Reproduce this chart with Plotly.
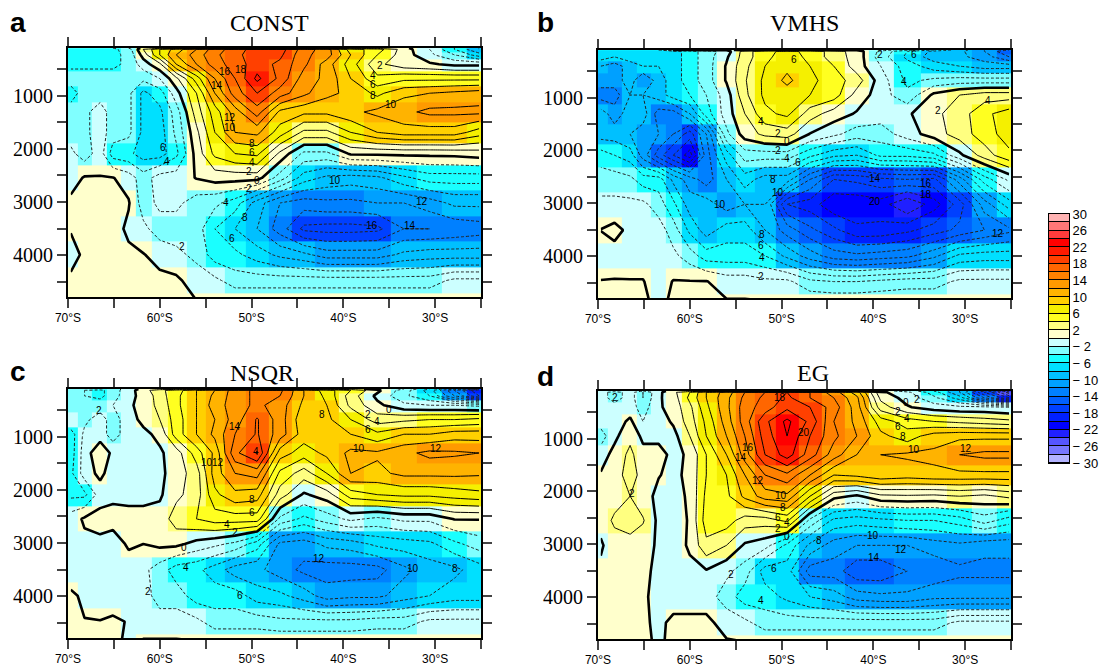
import plotly.graph_objects as go

LATITUDES = [-69.7,-68.2,-66.5,-65.1,-63.4,-61.8,-60,-58.2,-56,-54,-51.8,-49.4,-46.9,-44.3,-41.8,-39.2,-36.3,-33.4,-30.6,-27.9,-25.2]
DEPTHS = [100,125,230,406,676,952,1305,1689,2090,2547,3019,3506,3994,4480,4966]

CONST = [
[-4,-4,-4,-4,-2,.5,.5,.5,.5,.5,.5,.5,.5,.5,.5,.5,.5,.5,-2,-6,-10],
[-4.5,-4.5,-4.5,-4.5,-3,2,6,9,12,15,17,19,19,15,13,7,5,1,-2,-6,-10],
[-4.5,-4.5,-4.5,-4.5,-3.5,.8,6,10,13,15.5,17.5,19,18.5,14.5,13,8,4,1,-1.5,-4,-7],
[-4.5,-4.5,-4.5,-4.5,-3.5,-1,1.5,8,12,15,17,19,17.5,14.5,11,7,2.5,.8,.3,-.5,-.5],
[-3,-3,-3,-3,-3.5,-3.5,-2,1.5,7,12,16,20.5,17.5,13,11.5,8,4.5,5.5,5.5,5.5,5.5],
[-5,-3,-3,-3,-3.5,-6.5,-5,-.8,4,10,15,18,15,12.5,10.5,9.5,7.5,9.5,10,10.5,11],
[-3,-2.5,-1,-3,-3.5,-6.5,-6.5,-3,3,7,11,15,9.5,8.5,8.5,9.5,10.5,11.5,12.5,12.5,12.5],
[-3,-2.5,-1,-3,-3.5,-6.5,-7,-3.5,1.5,6,10,10.5,7,3.5,3.5,6,8,9,9,9,7],
[-1.5,-3,-1,-5,-5.5,-7,-7,-4.5,.8,4.5,6,6.5,1.5,-2.5,-2.5,.3,.4,.5,.5,.6,1],
[-1,.2,.1,.1,-1,-3,-1,-1,.1,.8,.8,.8,-3,-7,-8.5,-9,-8.5,-6.5,-5,-5,-5],
[.5,1,1,1,.2,-3,-1.5,-1.5,-3,-3.5,-5,-9,-12,-13,-12.5,-12.5,-12,-12,-11,-9.5,-9.5],
[.2,1.5,1,1,-.5,-1.5,-3,-3,-3,-6,-8,-10,-13,-16.5,-16.8,-16.8,-16.5,-14,-14,-13.5,-13],
[-1,.5,.5,.5,.5,.1,-.7,-1.5,-2.5,-5,-5.5,-7,-8.5,-9.5,-11,-11,-11,-9.5,-9,-9,-9],
[.5,.5,.5,.5,.5,.5,.5,.4,-1,-1.5,-3,-3,-3,-3,-3,-3,-3,-3,-3,-1.5,-1.5],
[.5,.5,.5,.5,.5,.5,.5,.5,.3,.5,.5,.5,.5,.5,.5,.5,.5,.5,.5,.5,.5],
]

VMHS = [
[-6,-6,-6,-6,-6,.2,.2,.2,.2,-.3,-.3,-.3,-.3,-.3,-.3,-1,-3,-6,-9,-12,-14],
[-7,-7,-7,-7,-7,-7,-5,-3,-1,3,5.5,6.5,5.5,3,1,-2.5,-6,-8.5,-9.5,-12,-16],
[-7,-8,-7,-7,-7,-7,-5,-3,-.3,3,5.5,7,5.5,3,1.2,-3,-6.5,-9,-9.5,-11,-14],
[-10,-11,-9,-8,-8,-7,-5,-3,.2,3.5,6,7.5,6,4,1,-2,-5,-7,-8,-9,-9],
[-11,-11,-9,-12,-9,-7,-5,-3,.2,3.8,6.5,8.5,6.5,5,3,-1,-4.5,-3.5,-3,-3,-3],
[-13,-13,-10,-10,-9,-7,-6,-4,-1,3.5,6.5,7,6,5,1.2,-1,-3.5,.5,2,3,3],
[-9,-11,-9,-9,-13,-13,-10,-5,-1,2,5.5,6.5,3,1,-.2,-1,-.3,1.5,3,5.5,7],
[-9,-9,-10,-11,-12,-14,-17,-12,-2.5,1,2.5,3,-.1,-1.5,-3,-3,-1,1,3,5,7],
[-5,-6,-7,-11,-15,-18,-21,-13,-7,-3,-3,-3,-5.5,-7.5,-8,-5.5,-5.5,-4.5,-.5,3,5.5],
[-3,-3,-3.5,-5,-5,-8.5,-11,-13,-10,-7,-9,-9,-14,-18,-17.5,-16.5,-16,-16.5,-11,-5,-1.5],
[-1.5,-1.5,-1.5,-1.5,-3,-5.5,-9,-9,-11,-10,-10,-18,-19,-21.5,-21.5,-21,-24,-21,-17,-11,-7],
[.05,.6,-.5,-1,-1,-3,-6.5,-9,-7,-7,-10,-13,-15.5,-17.5,-19.5,-19.5,-18.5,-17,-15.5,-14,-12.5],
[-1.5,-.8,-1,-1,-1,-1.5,-3,-5,-5,-5,-6,-8.5,-11,-13,-13.5,-13,-12.5,-10.5,-7.5,-7,-7],
[.1,.1,.1,.1,-1,.1,.1,.1,-1,-1,-1.5,-1.5,-3.5,-4,-4,-3.5,-3,-3,-1.5,-1.5,-1.5],
[.5,.5,.5,.5,-.5,.5,.5,.5,.5,.5,.5,.5,.5,.5,.5,.5,.5,.5,.5,.5,.5],
]

NSQR = [
[-3,-3,-3,-3,-1,.5,.5,.5,.5,.5,.5,.5,.5,.5,.5,.5,-.5,-2,-6,-10,-14],
[-3.5,-4,-4.5,-3,-.8,1,3.5,5,8,10,13,14.5,14.5,10,7,4,.5,-3,-7,-14,-20],
[-3.5,-4,-4.5,-3,-.5,.5,3,5.5,8,10.5,13,14.5,14,10,7.5,3,-.5,-3.5,-6,-12,-18],
[-2.5,-3,-3,-2,-.5,1,2.5,5.5,8,11,13,14.5,13,9.5,8,3.5,.5,-1.5,-2,-2,-2.5],
[-2,-2.5,-1,-3,-.8,.5,2,5,8,10,13,16.2,13,8.5,8.5,6,3,3.5,4,4,4.5],
[-5,-1.5,-1,-3,-.8,-.5,.5,5,8,10.5,14,16.2,13,9,9,8,6.5,8,8,9,9],
[-5,-1,1.5,-.5,-1,-1,-.3,1,5,8.5,15.5,18.2,9,7,8.5,10.5,10.3,11.5,12.5,12.3,12],
[-4.5,-1,.5,-1,-1,-1,-.5,1,3,9,12,12.8,5.5,3,6,10,9.5,10.5,10.5,10.5,10.3],
[-4.5,-4.5,-1,-.5,-.7,-.7,-.3,1.5,3,7.5,9.5,9,3,-.3,1,5,6,6.5,6.5,7,7.5],
[-1,.3,.8,.8,.8,.8,.8,3,4,5,5,5,-2.5,-4.5,-3,-1.5,-2.5,-1.5,-1.5,.1,.1],
[-1,-.5,-.5,-1,.3,0,.5,.5,-.7,-1.5,-2.5,-5,-10.5,-11,-9.5,-9,-7.5,-7,-6.5,-4.5,-3],
[-1,-1,-1,-1,-1,-1.5,-3,-5,-5.5,-7,-9,-9.5,-11,-12.5,-13,-13,-12.8,-10.5,-9,-8.5,-7],
[.3,-.3,-1,-1,-1,-1,-3,-3,-5,-5,-5,-7,-7.5,-9,-11,-10.5,-10.5,-9,-8,-7,-7],
[.5,.05,.05,.3,-.1,-1,-1,-1,-1.5,-3,-3,-3,-3.5,-3.5,-3.5,-3.5,-3,-3,-1.5,-1.5,-1.5],
[.5,.5,.5,.5,-.5,.5,.5,.5,.5,.5,.5,.5,.5,.5,.5,.5,.5,.5,.5,.5,.5],
]

EG = [
[-1,-1,-1,-2,-.5,.5,.5,.5,.5,.5,.5,.5,.5,.5,.5,-1,-3,-6,-10,-16,-22],
[-1,-3,-1,-4,-.5,1.5,4,8,11,14,16,18,16,13,9,.5,-1.5,-5,-10,-18,-25],
[-1,-3,-1,-4,-.3,1,4.5,8,11.5,14.5,16.5,18.5,16,14,10.5,1.5,-.8,-3.5,-7,-14,-20],
[-1,-1,-1,-3,-.3,.8,3.5,7.5,11.5,15,17,19.5,18,15,11,3,.2,-1,-1.5,-1.5,-2],
[-1,-1,.4,-2,-1,.3,3,6.5,11,15,19.5,22.5,19.5,14,11.5,7,5,4,3.5,3,2.5],
[-3,-.5,1.5,-.5,-.5,-.7,2,6,10,14,19,22,18,14.5,12,8.5,7,9,9.5,9.5,9.5],
[-1,.7,2.5,.7,.7,-.5,.3,4,8,13,18,21,17,13,10,10,10.3,10.5,12,12.5,12.5],
[.2,1,3,1.2,.1,-.5,.5,4,6,10,14,15.5,12,8,8.5,9.5,9,9.5,9.5,9.5,9.5],
[.5,.8,2,.8,-.5,-.7,.3,4.5,5.5,8.5,11,11.5,6,.7,-.4,1.5,1.7,1.5,2,1.5,2.5],
[.5,2.5,3.5,2.2,-.5,-1,.2,5,5,3,3,4.5,-2.5,-6.5,-7,-6.5,-6,-6,-5,-3,-5],
[-.2,.8,.8,.8,-.3,-1,.3,3.5,2,-.3,-1.2,-4.5,-8.5,-11,-12,-12,-12,-11,-10.5,-11.5,-11.5],
[.3,.8,.8,.5,-.5,-1,-.5,-.2,-1.5,-3,-7,-7,-13,-13,-15.5,-15.5,-14,-13.5,-12.5,-12.5,-12.5],
[.5,.5,.5,.5,-1,-1,-1,-1,-3,-5,-5,-6.5,-8,-9,-11,-11.5,-11.5,-10.5,-10.5,-10.5,-10.5],
[.5,.5,.5,.4,-.5,.5,.5,.5,-.8,-1.5,-3,-3,-3,-3,-3,-3,-3,-3,-1.5,-1.5,-1.5],
[.5,.5,.5,.5,-.3,.5,.5,.5,.5,.5,.5,.5,.5,.5,.5,.5,.5,.5,.5,.5,.5],
]

LEVEL_COLORS = ["#b3b3ff","#7777ff","#5555ff","#2020ff","#0000ff","#0020ff","#0040ff","#0060ff","#0080ff","#00a0ff",
                "#00c0ff","#00e0ff","#1affff","#80ffff","#ccffff","#ffffcc","#ffff80","#ffff20","#f5f000","#ffd000",
                "#ffb300","#ff9a00","#ff8000","#ff6600","#ff4000","#ff1a00","#ff0000","#ff3c3c","#ff7777","#ffb3b3"]
LEVEL_MIDS = [-29+2*i for i in range(30)]
COLORBAR_TICKS = [30,26,22,18,14,10,6,2,-2,-6,-10,-14,-18,-22,-26,-30]
LAT_TICKS = [-70,-65,-60,-55,-50,-45,-40,-35,-30,-25]
LAT_TEXT = ["70°S","","60°S","","50°S","","40°S","","30°S",""]
DEPTH_TICKS = [500,1000,1500,2000,2500,3000,3500,4000,4500]
DEPTH_TEXT = ["","1000","","2000","","3000","","4000",""]

# contour labels: text, position in the 3x crop of each panel
LABELS_A = [("16",675,215),("18",722,208),("14",652,258),("12",690,352),("10",690,383),("8",757,430),("6",757,457),("4",757,488),("2",748,516),("0",772,540),("2",748,564),("6",490,442),("4",500,485),("10",1005,540),("12",1265,605),("8",735,652),("4",677,607),("6",695,717),("2",545,738),("16",1115,675),("14",1230,677),("2",1140,197),("4",1120,226),("6",1118,255),("8",1118,288),("10",1172,315)]
LABELS_B = [("6",793,178),("4",693,365),("2",745,400),("0",770,425),("2",745,450),("4",770,475),("6",805,487),("8",730,537),("10",745,578),("10",570,613),("14",1035,535),("16",1187,550),("18",1187,583),("20",1035,604),("12",1403,702),("8",695,703),("6",693,737),("4",695,771),("2",692,830),("2",1225,332),("4",1373,303),("6",1153,165),("4",1122,245),("2",1050,165)]
LABELS_C = [("2",298,210),("14",705,258),("10",622,368),("12",655,367),("8",757,477),("6",757,517),("4",680,553),("2",705,577),("0",553,622),("4",557,681),("2",445,755),("6",720,767),("12",958,656),("10",1240,686),("8",1365,686),("10",1078,325),("12",1307,325),("8",967,223),("0",1168,207),("2",1105,222),("4",1130,245),("6",1105,268),("4",767,333)]
LABELS_D = [("18",750,172),("20",823,276),("16",655,322),("14",632,352),("12",685,421),("10",752,467),("8",760,501),("6",745,531),("4",772,548),("2",745,566),("0",772,590),("8",867,600),("10",1028,585),("12",1112,627),("14",1033,651),("6",732,685),("2",603,702),("4",692,780),("10",1153,327),("12",1307,324),("2",305,460),("0",1127,187),("2",1160,178),("2",1105,213),("4",1130,236),("6",1105,260),("8",1118,290),("2",255,172)]

W, H = 1099, 666
PANELS = [
    ("CONST", CONST, "a", (68,481,48,297), (269,23), (18,22), LABELS_A, (0,0)),
    ("VMHS",  VMHS,  "b", (598,1011,50,298), (804,23), (545,22), LABELS_B, (530,0)),
    ("NSQR",  NSQR,  "c", (68,481,389,638), (262,373), (18,371), LABELS_C, (0,340)),
    ("EG",    EG,    "d", (598,1011,391,639), (813,373), (545,377), LABELS_D, (530,340)),
]

colorscale = []
for i, c in enumerate(LEVEL_COLORS):
    colorscale += [[i/30, c], [(i+1)/30, c]]

fig = go.Figure()
annotations = []
layout = {}

def px(x): return x / W
def py(y): return 1 - y / H

for idx, (title, z, letter, box, tpos, lpos, labels, off) in enumerate(PANELS, start=1):
    ax = dict(x=f"x{idx}", y=f"y{idx}")
    assert all(len(r) == 21 for r in z) and len(z) == 15
    fig.add_trace(go.Heatmap(x=LATITUDES, y=DEPTHS, z=z, zmin=-30, zmax=30, colorscale=colorscale,
                             showscale=False, xaxis=ax["x"], yaxis=ax["y"], hoverinfo="skip"))
    common = dict(x=LATITUDES, y=DEPTHS, z=z, showscale=False, xaxis=ax["x"], yaxis=ax["y"], hoverinfo="skip")
    fig.add_trace(go.Contour(contours=dict(start=2, end=30, size=2, coloring="none"),
                             line=dict(color="black", width=1, smoothing=0), **common))
    fig.add_trace(go.Contour(contours=dict(start=-30, end=-2, size=2, coloring="none"),
                             line=dict(color="#222222", width=1, dash="3px,2px", smoothing=0), **common))
    fig.add_trace(go.Contour(contours=dict(start=0, end=0.5, size=1, coloring="none"),
                             line=dict(color="black", width=2.6, smoothing=0), **common))
    x0, x1, y0, y1 = box
    suffix = "" if idx == 1 else str(idx)
    layout["xaxis" + suffix] = dict(domain=[px(x0), px(x1)], range=[-70, -25], anchor=f"y{idx}",
        tickmode="array", tickvals=LAT_TICKS, ticktext=LAT_TEXT, ticks="outside", ticklen=9, tickwidth=2,
        showline=True, linewidth=2, linecolor="black", mirror="ticks", showgrid=False, zeroline=False,
        tickfont=dict(family="Liberation Sans", size=12, color="black"))
    layout["yaxis" + suffix] = dict(domain=[py(y1), py(y0)], range=[4790, 100], anchor=f"x{idx}",
        tickmode="array", tickvals=DEPTH_TICKS, ticktext=DEPTH_TEXT, ticks="outside", ticklen=9, tickwidth=2,
        showline=True, linewidth=2, linecolor="black", mirror="ticks", showgrid=False, zeroline=False,
        tickfont=dict(family="Liberation Serif", size=20, color="black"))
    annotations.append(dict(text=title, x=px(tpos[0]), y=py(tpos[1]), xref="paper", yref="paper", showarrow=False,
                            xanchor="center", yanchor="middle", font=dict(family="Liberation Serif", size=24, color="black")))
    annotations.append(dict(text=f"<b>{letter}</b>", x=px(lpos[0]), y=py(lpos[1]), xref="paper", yref="paper", showarrow=False,
                            xanchor="center", yanchor="middle", font=dict(family="Liberation Sans", size=28, color="black")))
    for t, lx, ly in labels:
        annotations.append(dict(text=t, x=px(off[0] + lx/3), y=py(off[1] + ly/3), xref="paper", yref="paper", showarrow=False,
                                xanchor="center", yanchor="middle", font=dict(family="Liberation Sans", size=10, color="black")))

# colour key
fig.add_trace(go.Heatmap(x=[0], y=LEVEL_MIDS, z=[[m] for m in LEVEL_MIDS], zmin=-30, zmax=30, colorscale=colorscale,
                         showscale=False, xaxis="x5", yaxis="y5", ygap=1, hoverinfo="skip"))
layout["xaxis5"] = dict(domain=[px(1049), px(1069)], anchor="y5", range=[-0.5, 0.5], showticklabels=False, ticks="",
                        showgrid=False, zeroline=False, showline=True, linewidth=1, linecolor="black", mirror=True)
layout["yaxis5"] = dict(domain=[py(463), py(214)], anchor="x5", side="right", range=[-30, 30], tickmode="array",
                        tickvals=COLORBAR_TICKS, ticktext=[str(v) if v > 0 else "\u2212 " + str(-v) for v in COLORBAR_TICKS],
                        ticks="", showgrid=False, zeroline=False, showline=True, linewidth=1, linecolor="black", mirror=True,
                        tickfont=dict(family="Liberation Sans", size=13, color="black"))

fig.update_layout(width=W, height=H, margin=dict(l=0, r=0, t=0, b=0, autoexpand=False), paper_bgcolor="white", plot_bgcolor="black",
                  annotations=annotations, showlegend=False, **layout)
fig.write_html("out.html", config={"displayModeBar": False}, post_script="document.body.style.margin='0';")
